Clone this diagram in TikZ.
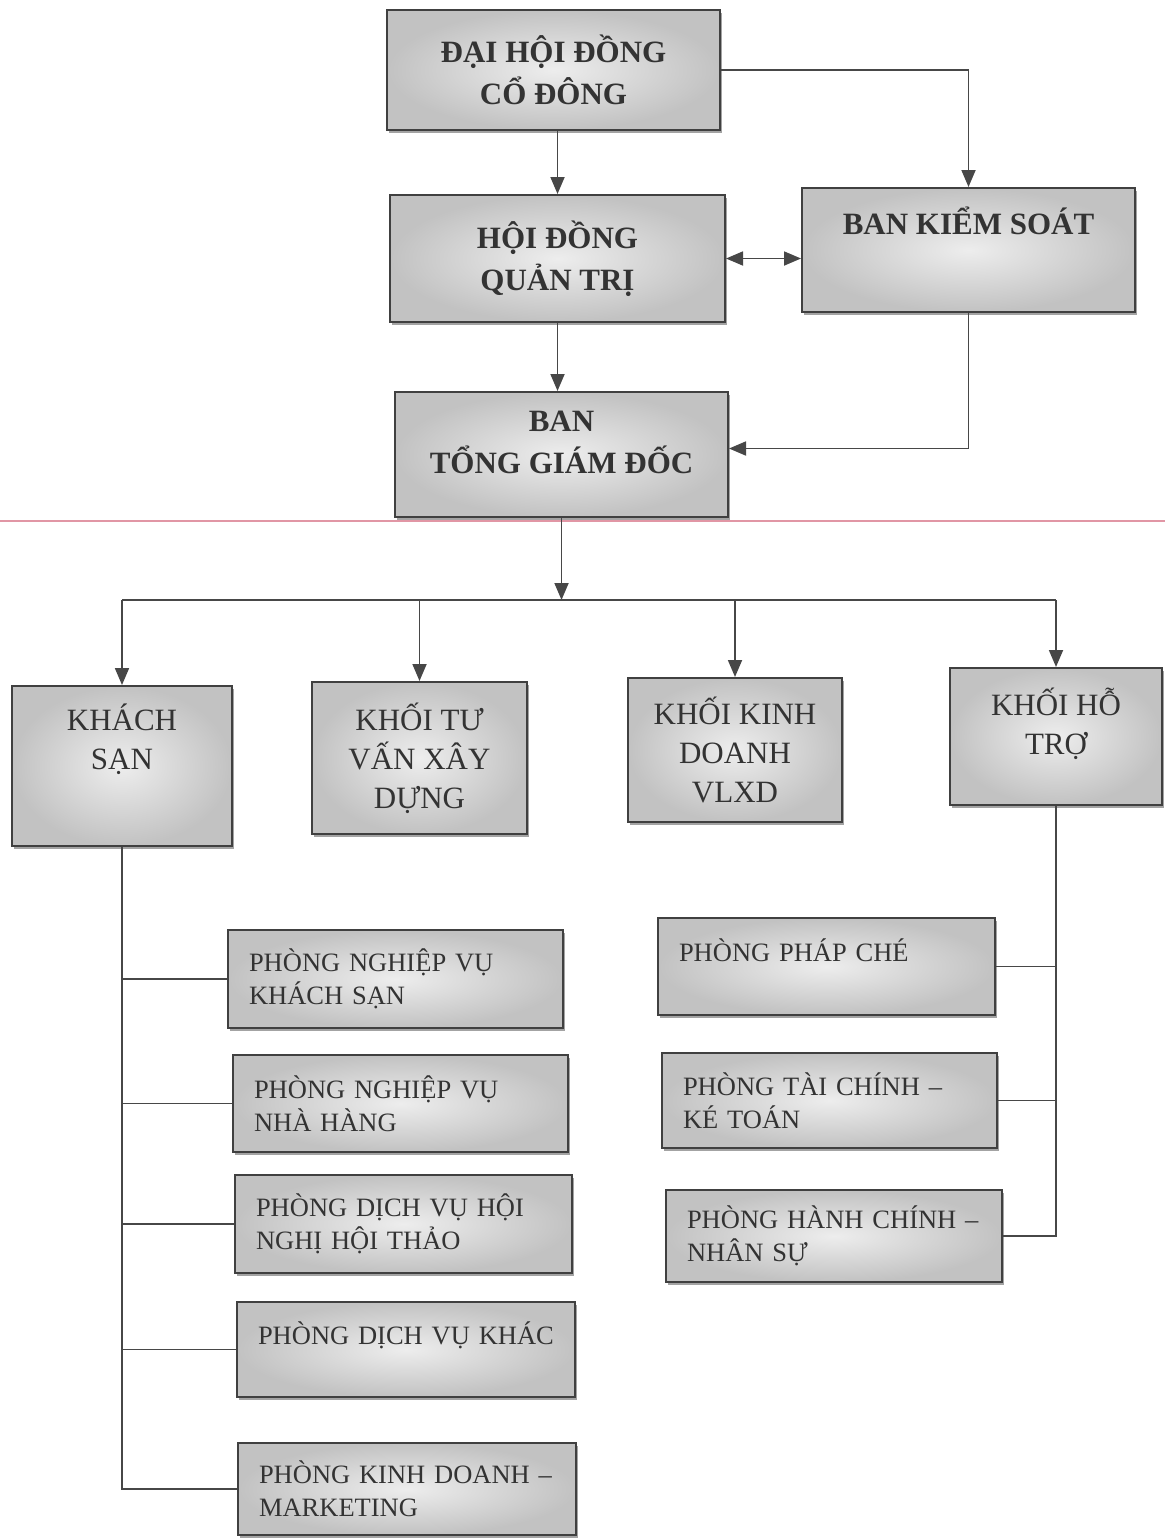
\documentclass[tikz,border=0pt]{standalone}
\usepackage{fontspec}
\setmainfont{Liberation Serif}
\usetikzlibrary{arrows.meta,shadows,calc}
\definecolor{boxedge}{gray}{0.25}
\definecolor{linec}{gray}{0.28}
\definecolor{scanpink}{RGB}{225,150,165}
\tikzset{
  box/.style={draw=boxedge, line width=2pt, inner color=black!7, outer color=black!24,
    drop shadow={shadow xshift=2pt, shadow yshift=-3pt, fill=black!45, opacity=0.8},
    inner sep=0pt},
  topbox/.style={box, font=\fontsize{31}{42}\selectfont\bfseries, align=center, text=black!80},
  midbox/.style={box, font=\fontsize{31}{39}\selectfont, align=center, text=black!80},
  subbox/.style={box, font=\fontsize{26.5}{33}\selectfont, align=left, text=black!80},
  conn/.style={draw=linec, line width=1.8pt},
  arr/.style={conn, -{Triangle[length=17pt,width=14pt]}},
  darr/.style={conn, {Triangle[length=17pt,width=14pt]}-{Triangle[length=17pt,width=14pt]}},
}
\begin{document}
\begin{tikzpicture}[x=1pt,y=-1pt]
\useasboundingbox (0,0) rectangle (1165,1539);
% scan rule
\draw[scanpink, line width=1.2pt] (0,521) -- (1165,521);

% top level
\node[topbox, minimum width=333pt, minimum height=120pt] (dh) at (553.5,70) {ĐẠI HỘI ĐỒNG\\CỔ ĐÔNG};
\node[topbox, minimum width=335pt, minimum height=127pt] (hd) at (557.5,258.5) {HỘI ĐỒNG\\QUẢN TRỊ};
\node[topbox, minimum width=333pt, minimum height=124pt] (bks) at (968.5,250) {BAN KIỂM SOÁT\\[17pt]\mbox{}};
\node[topbox, minimum width=333pt, minimum height=125pt] (tgd) at (561.5,454.5) {BAN\\TỔNG GIÁM ĐỐC\\[-18pt]\mbox{}};

\draw[arr] (hd.north |- dh.south) -- (hd.north);
\draw[arr] (dh.east) -| (bks.north);
\draw[darr] (hd.east) -- (hd.east -| bks.west);
\draw[arr] (hd.south) -- (hd.south |- tgd.north);
\draw[arr] (bks.south) |- ($(tgd.east)+(0,-6)$);

% second level
\node[midbox, minimum width=220pt, minimum height=160pt] (ks) at (122,766) {KHÁCH\\SẠN\\[20pt]\mbox{}};
\node[midbox, minimum width=215pt, minimum height=152pt] (tv) at (419.5,758) {KHỐI TƯ\\VẤN XÂY\\DỰNG};
\node[midbox, minimum width=214pt, minimum height=144pt] (kd) at (735,750) {KHỐI KINH\\DOANH\\VLXD};
\node[midbox, minimum width=212pt, minimum height=137pt] (ht) at (1056,736.5) {KHỐI HỖ\\TRỢ\\[-8pt]\mbox{}};

\coordinate (busL) at (122,600);
\coordinate (busR) at (1056,600);
\draw[conn] (busL) -- (busR);
\draw[arr] (tgd.south) -- (tgd.south |- busL);
\draw[arr] (ks.north |- busL) -- (ks.north);
\draw[arr] (tv.north |- busL) -- (tv.north);
\draw[arr] (kd.north |- busL) -- (kd.north);
\draw[arr] (ht.north |- busL) -- (ht.north);

% left column
\node[subbox, minimum width=335pt, minimum height=98pt, text width=293pt] (l1) at (395.5,979) {PHÒNG NGHIỆP VỤ\\KHÁCH SẠN};
\node[subbox, minimum width=335pt, minimum height=97pt, text width=293pt] (l2) at (400.5,1103.5) {PHÒNG NGHIỆP VỤ\\NHÀ HÀNG};
\node[subbox, minimum width=337pt, minimum height=98pt, text width=295pt] (l3) at (403.5,1224) {PHÒNG DỊCH VỤ HỘI\\NGHỊ HỘI THẢO};
\node[subbox, minimum width=338pt, minimum height=95pt, text width=296pt] (l4) at (406,1349.5) {PHÒNG DỊCH VỤ KHÁC\\\mbox{}};
\node[subbox, minimum width=338pt, minimum height=92pt, text width=296pt] (l5) at (407,1489) {PHÒNG KINH DOANH –\\MARKETING};

\draw[conn] (ks.south) |- (l5.west);
\draw[conn] (l1.west) -- (l1.west -| ks.south);
\draw[conn] (l2.west) -- (l2.west -| ks.south);
\draw[conn] (l3.west) -- (l3.west -| ks.south);
\draw[conn] (l4.west) -- (l4.west -| ks.south);

% right column
\node[subbox, minimum width=337pt, minimum height=97pt, text width=295pt] (r1) at (826.5,966.5) {PHÒNG PHÁP CHÉ\\\mbox{}};
\node[subbox, minimum width=335pt, minimum height=95pt, text width=293pt] (r2) at (829.5,1100.5) {PHÒNG TÀI CHÍNH –\\KÉ TOÁN};
\node[subbox, minimum width=336pt, minimum height=92pt, text width=294pt] (r3) at (834,1236) {PHÒNG HÀNH CHÍNH –\\NHÂN SỰ};

\draw[conn] (ht.south) |- (r3.east);
\draw[conn] (r1.east) -- (r1.east -| ht.south);
\draw[conn] (r2.east) -- (r2.east -| ht.south);
\end{tikzpicture}
\end{document}
